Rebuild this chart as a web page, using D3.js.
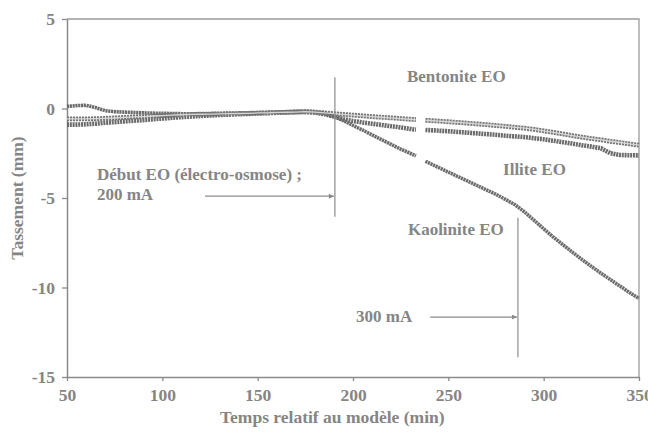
<!DOCTYPE html>
<html>
<head>
<meta charset="utf-8">
<script src="https://cdn.jsdelivr.net/npm/d3@7"></script>
<style>
body { margin: 0; background: #fff; }
svg text { font-family: "Liberation Serif", "Times New Roman", serif; font-weight: bold; fill: #858585; }
</style>
</head>
<body>
<div id="chart"></div>
<script>
'use strict';

// temps (min) ; null = trou dans l'enregistrement vers 235 min
var times = [50, 55, 60, 65, 70, 75, 80, 85, 90, 95, 100, 105, 110, 115, 120, 125, 130, 135, 140, 145,
    150, 155, 160, 165, 170, 175, 180, 185, 190, 195, 200, 205, 210, 215, 220, 225, 230, 233, 235, 238,
    240, 245, 250, 255, 260, 265, 270, 275, 280, 285, 290, 295, 300, 305, 310, 315, 320, 325, 330, 335,
    340, 345, 350];

var bentonite = [-0.58, -0.58, -0.58, -0.57, -0.55, -0.53, -0.5, -0.47, -0.45, -0.42, -0.4, -0.37, -0.35, -0.33, -0.32, -0.31, -0.3, -0.29, -0.28, -0.27,
    -0.25, -0.24, -0.22, -0.21, -0.2, -0.18, -0.2, -0.24, -0.29, -0.33, -0.37, -0.41, -0.45, -0.49, -0.52, -0.56, -0.6, -0.62, null, -0.66,
    -0.67, -0.7, -0.74, -0.78, -0.82, -0.86, -0.9, -0.95, -1.0, -1.05, -1.1, -1.17, -1.25, -1.33, -1.42, -1.51, -1.6, -1.68, -1.75, -1.83,
    -1.9, -1.98, -2.05];

var illite = [-0.9, -0.9, -0.88, -0.85, -0.8, -0.76, -0.72, -0.68, -0.65, -0.6, -0.56, -0.52, -0.48, -0.45, -0.42, -0.39, -0.36, -0.34, -0.32, -0.3,
    -0.28, -0.26, -0.24, -0.22, -0.2, -0.19, -0.23, -0.32, -0.45, -0.6, -0.7, -0.78, -0.85, -0.92, -0.99, -1.06, -1.14, -1.18, null, -1.2,
    -1.21, -1.24, -1.27, -1.31, -1.35, -1.39, -1.43, -1.47, -1.52, -1.56, -1.6, -1.66, -1.72, -1.8, -1.88, -1.96, -2.05, -2.13, -2.22, -2.5,
    -2.6, -2.61, -2.62];

var kaolinite = [0.12, 0.16, 0.18, 0.05, -0.12, -0.18, -0.2, -0.22, -0.24, -0.26, -0.27, -0.28, -0.29, -0.3, -0.3, -0.29, -0.28, -0.27, -0.26, -0.25,
    -0.24, -0.22, -0.2, -0.18, -0.16, -0.15, -0.18, -0.28, -0.45, -0.68, -0.95, -1.2, -1.47, -1.74, -2.0, -2.27, -2.5, -2.65, null, -2.95,
    -3.05, -3.3, -3.55, -3.8, -4.05, -4.3, -4.55, -4.8, -5.08, -5.38, -5.78, -6.25, -6.72, -7.18, -7.6, -8.02, -8.43, -8.82, -9.2, -9.56,
    -9.92, -10.28, -10.62];

var xTicks = [50, 100, 150, 200, 250, 300, 350];
var yTicks = [5, 0, -5, -10, -15];

// debut EO (200 mA) puis passage a 300 mA
var eoStart = 190.5,
    eoBoost = 286.5;

var width = 648,
    height = 432,
    plot_left = 67,
    plot_right = 639,
    plot_top = 19,
    plot_bottom = 377;

var x = d3.scaleLinear().domain([50, 350]).range([plot_left, plot_right]);
var y = d3.scaleLinear().domain([5, -15]).range([plot_top, plot_bottom]);

var svg = d3.select("#chart").append("svg")
    .attr("width", width)
    .attr("height", height);

svg.append("defs").append("marker")
    .attr("id", "arrow")
    .attr("viewBox", "0 0 8 8")
    .attr("refX", 8)
    .attr("refY", 4)
    .attr("markerWidth", 7)
    .attr("markerHeight", 5)
    .attr("markerUnits", "userSpaceOnUse")
    .attr("orient", "auto")
    .append("path")
    .attr("d", "M0,0L8,4L0,8Z")
    .style("fill", "#8a8a8a");

// cadre
svg.append("path")
    .attr("d", "M" + x(50) + "," + y(5) + "H" + x(350) + "V" + y(-15))
    .style("fill", "none")
    .style("stroke", "#9a9a9a")
    .style("stroke-width", 1.3);

var xAxis = svg.append("g")
    .attr("transform", "translate(0," + plot_bottom + ")")
    .call(d3.axisBottom(x).tickValues(xTicks).tickSize(4).tickSizeOuter(0).tickPadding(8)
        .tickFormat(function(d) { return String(d); }));

var yAxis = svg.append("g")
    .attr("transform", "translate(" + plot_left + ",0)")
    .call(d3.axisLeft(y).tickValues(yTicks).tickSize(5).tickSizeOuter(0).tickPadding(7)
        .tickFormat(function(d) { return String(d); }));

[xAxis, yAxis].forEach(function(a) {
    a.select(".domain").style("stroke", "#8a8a8a").style("stroke-width", 1.5);
    a.selectAll(".tick line").style("stroke", "#8a8a8a").style("stroke-width", 1.3);
    a.selectAll(".tick text").style("font-size", "17.5px").style("fill", "#858585");
});

var line = d3.line()
    .defined(function(d) { return d.v !== null; })
    .x(function(d) { return x(d.t); })
    .y(function(d) { return y(d.v); });

var toPoints = function(values) {
    return times.map(function(t, i) {
        return { t: t, v: values[i] };
    });
};

svg.append("path")
    .attr("d", line(toPoints(kaolinite)))
    .style("fill", "none")
    .style("stroke", "#6c6c6c")
    .style("stroke-width", 3.6)
    .style("stroke-dasharray", "2.2,0.6");

svg.append("path")
    .attr("d", line(toPoints(illite)))
    .style("fill", "none")
    .style("stroke", "#6a6a6a")
    .style("stroke-width", 4.6)
    .style("stroke-dasharray", "2,0.8");

// bentonite : marqueurs creux
svg.append("path")
    .attr("d", line(toPoints(bentonite)))
    .style("fill", "none")
    .style("stroke", "#777")
    .style("stroke-width", 4.8)
    .style("stroke-dasharray", "2.2,0.8");
svg.append("path")
    .attr("d", line(toPoints(bentonite)))
    .style("fill", "none")
    .style("stroke", "#d6d6d6")
    .style("stroke-width", 1.3);

// annotations
var vlines = [
    { t: eoStart, y1: 1.75, y2: -6.05 },
    { t: eoBoost, y1: -6.1, y2: -13.9 }
];
svg.selectAll(".vline").data(vlines)
    .enter().append("line")
    .attr("class", "vline")
    .attr("x1", function(d) { return x(d.t); })
    .attr("x2", function(d) { return x(d.t); })
    .attr("y1", function(d) { return y(d.y1); })
    .attr("y2", function(d) { return y(d.y2); })
    .style("stroke", "#959595")
    .style("stroke-width", 1.3);

var arrows = [
    { t1: 122.4, t2: eoStart, v: -4.9 },
    { t1: 240.5, t2: eoBoost, v: -11.65 }
];
svg.selectAll(".arrow").data(arrows)
    .enter().append("line")
    .attr("class", "arrow")
    .attr("x1", function(d) { return x(d.t1); })
    .attr("x2", function(d) { return x(d.t2) - 1; })
    .attr("y1", function(d) { return y(d.v); })
    .attr("y2", function(d) { return y(d.v); })
    .attr("marker-end", "url(#arrow)")
    .style("stroke", "#8a8a8a")
    .style("stroke-width", 1.2);

var labels = [
    { text: "Bentonite EO", t: 228.3, v: 1.48 },
    { text: "Illite EO", t: 278.7, v: -3.72 },
    { text: "Kaolinite EO", t: 228.8, v: -7.07 },
    { text: "300 mA", t: 201.6, v: -11.93 },
    { text: "Début EO (électro-osmose) ;", t: 65.7, v: -4.0 },
    { text: "200 mA", t: 65.7, v: -5.12 }
];
svg.selectAll(".label").data(labels)
    .enter().append("text")
    .attr("class", "label")
    .attr("x", function(d) { return x(d.t); })
    .attr("y", function(d) { return y(d.v); })
    .style("font-size", "17px")
    .text(function(d) { return d.text; });

svg.append("text")
    .attr("x", 220)
    .attr("y", 423)
    .style("font-size", "17.5px")
    .text("Temps relatif au modèle (min)");

svg.append("text")
    .attr("transform", "translate(23," + (plot_top + plot_bottom) / 2 + ") rotate(-90)")
    .attr("text-anchor", "middle")
    .style("font-size", "17.5px")
    .text("Tassement (mm)");
</script>
</body>
</html>
